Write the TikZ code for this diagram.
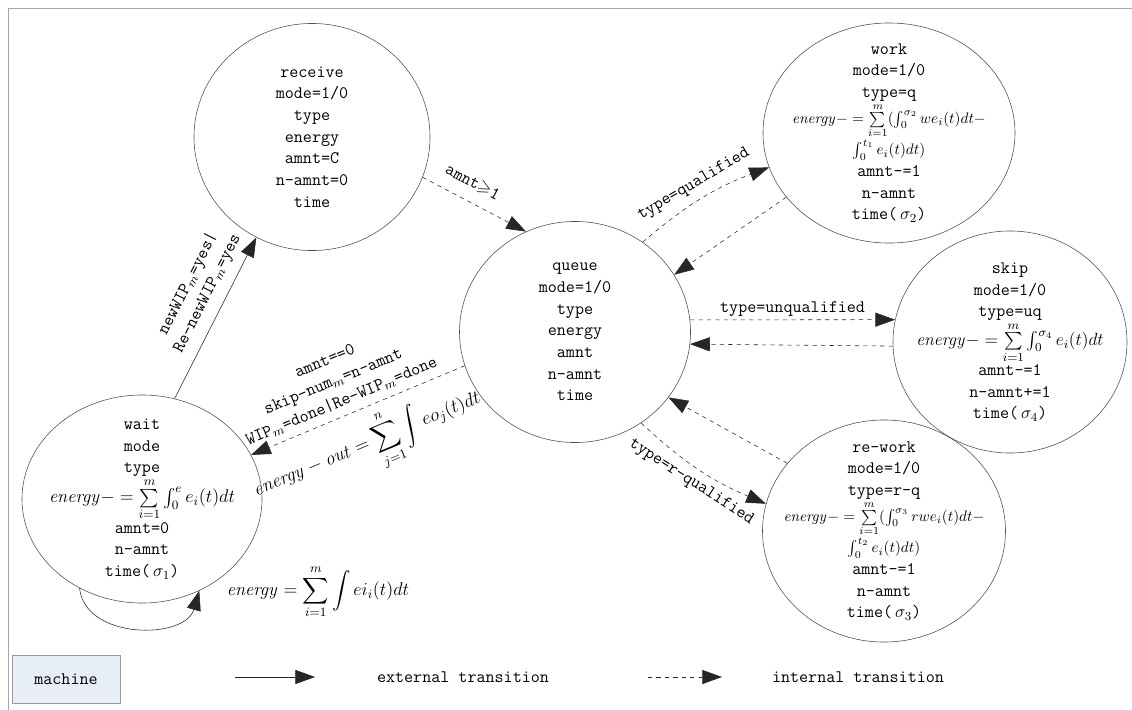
\RequirePackage{fix-cm}
\documentclass[tikz,border=0pt]{standalone}
\usepackage{amsmath,amssymb}
\usepackage{tikz}
\usetikzlibrary{shapes.geometric,arrows.meta}

\newcommand\statefont{\fontsize{12.5}{15.4}\selectfont\ttfamily}
\newcommand\bigmath{\fontsize{13}{16}\selectfont}
\newcommand\smallmath{\fontsize{10.8}{13}\selectfont}
\definecolor{machinefill}{RGB}{232,238,248}

\begin{document}
\begin{tikzpicture}[x=0.025cm,y=-0.025cm,
    state/.style={draw=black!70, ellipse, inner sep=-1.5cm, align=center, font=\statefont},
    extarrow/.style={draw=black!85, -{Triangle[length=14pt,width=10pt]}},
    intarrow/.style={extarrow, dashed},
    lbl/.style={font=\statefont, sloped, align=center, inner sep=2pt}]
 %frame
    \useasboundingbox (0,0) rectangle (1132,710);
    \draw [black!35] (8,710) -- (8,8) -- (1132,8);% left and top rule
    \coordinate (ReceiveC) at (312,137);
    \coordinate (QueueC)   at (575,332);
    \coordinate (WorkC)    at (889,133);
    \coordinate (SkipC)    at (1010,342);
    \coordinate (ReworkC)  at (884,531);
    \coordinate (WaitC)    at (142,499);
 %the six states
    \node[state, minimum width=5.9cm, minimum height=5.675cm] (Receive) at (ReceiveC)
        {receive\\mode=1/0\\type\\energy\\amnt=C\\n-amnt=0\\time};
    \node[state, minimum width=5.775cm, minimum height=5.525cm] (Queue) at (QueueC)
        {queue\\mode=1/0\\type\\energy\\amnt\\n-amnt\\time};
    \node[state, minimum width=6.3cm, minimum height=5.5cm] (Work) at (WorkC)
        {work\\mode=1/0\\type=q\\
         {\smallmath$\mathit{energy}-=\sum\limits_{i=1}^{m}(\int_0^{\sigma_2}we_i(t)dt-$}\\
         {\smallmath$\int_0^{t_1}e_i(t)dt)$}\\
         amnt-=1\\n-amnt\\time(\,$\sigma_{2}$)};
    \node[state, minimum width=5.85cm, minimum height=5.55cm] (Skip) at (SkipC)
        {skip\\mode=1/0\\type=uq\\
         $\mathit{energy}-=\sum\limits_{i=1}^{m}\int_0^{\sigma_4}e_i(t)dt$\\
         amnt-=1\\n-amnt+=1\\time(\,$\sigma_{4}$)};
    \node[state, minimum width=6.075cm, minimum height=5.55cm] (Rework) at (ReworkC)
        {re-work\\mode=1/0\\type=r-q\\
         {\smallmath$\mathit{energy}-=\sum\limits_{i=1}^{m}(\int_0^{\sigma_3}rwe_i(t)dt-$}\\
         {\smallmath$\int_0^{t_2}e_i(t)dt)$}\\
         amnt-=1\\n-amnt\\time(\,$\sigma_{3}$)};
    \node[state, minimum width=6.0cm, minimum height=5.2cm] (Wait) at (WaitC)
        {wait\\mode\\type\\
         {\bigmath$\mathit{energy}-=\sum\limits_{i=1}^{m}\int_0^{e}e_i(t)dt$}\\
         amnt=0\\n-amnt\\time(\,$\sigma_{1}$)};
 %transitions
    \draw [extarrow] (Wait.72) -- node[lbl, above=5pt, pos=0.6]
        {newWIP$_m$=yes|\\Re-newWIP$_m$=yes} (Receive.241);
    \draw [intarrow] (Receive.340) -- node[lbl, above=6pt, pos=0.4] {amnt$\geqslant$1} (Queue.116);
    \draw [intarrow] (Queue.53) to[bend left=10] node[lbl, above=4pt] {type=qualified} (Work.196);
    \draw [intarrow] (Work.212) -- (Queue.30);
    \draw [intarrow] (Queue.6) -- node[lbl, above] {type=unqualified} (Skip.169);
    \draw [intarrow] (Skip.182) -- (Queue.-6);
    \draw [intarrow] (Queue.-54) to[bend right=10] node[lbl, below=3pt] {type=r-qualified} (Rework.167);
    \draw [intarrow] (Rework.145) -- (Queue.-35);
    \draw [intarrow] (Queue.197) --
        node[lbl, above=3pt, pos=0.55] {amnt==0\\skip-num$_m$=n-amnt\\WIP$_m$=done|Re-WIP$_m$=done}
        node[lbl, below=4pt, pos=0.52] {\fontsize{13.5}{16}\selectfont$\displaystyle\mathit{energy}-\mathit{out}=\sum_{j=1}^{n}\int eo_j(t)dt$}
        (Wait.22);
    \draw [extarrow] (Wait.235) .. controls (85,640) and (185,640) .. (Wait.302);% self loop
    \node[font=\bigmath] (LoopLbl) at (318,592)
        {$\displaystyle\mathit{energy}=\sum_{i=1}^{m}\int ei_i(t)dt$};
 %legend
    \node[draw=black!40, fill=machinefill, minimum width=2.7cm, minimum height=1.2cm,
          font=\statefont] (Machine) at (66,679) {machine};
    \coordinate (ExtA) at (235,677);
    \coordinate (ExtB) at (315,677);
    \coordinate (IntA) at (648,677);
    \coordinate (IntB) at (722,677);
    \draw [extarrow] (ExtA) -- (ExtB);
    \draw [intarrow] (IntA) -- (IntB);
    \node[font=\statefont] (ExtTxt) at (463,677) {external transition};
    \node[font=\statefont] (IntTxt) at (858,677) {internal transition};
\end{tikzpicture}
\end{document}
